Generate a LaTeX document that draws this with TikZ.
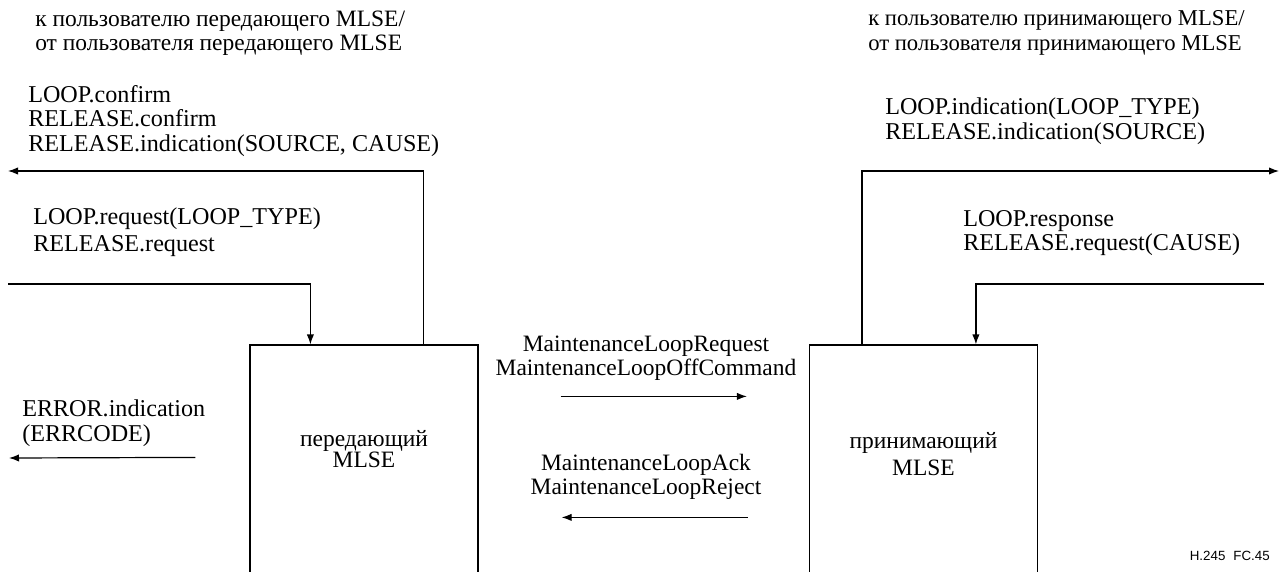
\documentclass[tikz,border=0pt]{standalone}
\usepackage{fontspec}
\setmainfont{Liberation Serif}
\newfontfamily\labsans{Liberation Sans}
\usetikzlibrary{arrows.meta,calc}
\begin{document}
\begin{tikzpicture}[x=0.75pt,y=-0.75pt,
  txt/.style={inner sep=0pt,align=left,anchor=west,font=\fontsize{18.1}{18.4}\selectfont},
  htxt/.style={inner sep=0pt,align=left,anchor=west,font=\fontsize{17.6}{18.4}\selectfont},
  ctxt/.style={inner sep=0pt,align=center,font=\fontsize{17.6}{18.4}\selectfont},
  mbox/.style={draw,line width=0.9pt,minimum width=171pt,minimum height=195pt,inner sep=0pt},
  arr/.style={line width=0.9pt,-{Latex[length=7.5pt,width=5.5pt]}}]
\useasboundingbox (0,0) rectangle (1281,571);
\fill[white] (0,0) rectangle (1281,571);
% boxes (open at the bottom: they run past the page edge)
\node[mbox] (tx) at (364,475) {};
\node[mbox] (rx) at (923.5,475) {};
\node[ctxt,font=\fontsize{17.6}{16}\selectfont] (txl) at (364,449) {передающий\\MLSE};
\node[ctxt,font=\fontsize{17.6}{20}\selectfont] (rxl) at (923.5,454) {принимающий\\MLSE};
% headers
\node[htxt] (h1) at (35,33) {к пользователю передающего MLSE/\\от пользователя передающего MLSE};
\node[htxt,font=\fontsize{17}{18.4}\selectfont] (h2) at (868,33) {к пользователю принимающего MLSE/\\от пользователя принимающего MLSE};
% left labels
\node[txt] (l1) at (28,121) {LOOP.confirm\\RELEASE.confirm\\RELEASE.indication(SOURCE, CAUSE)};
\node[txt,font=\fontsize{18.1}{20.5}\selectfont] (l2) at (33,232) {LOOP.request(LOOP\_TYPE)\\RELEASE.request};
\node[txt] (l3) at (22,423) {ERROR.indication\\(ERRCODE)};
% right labels
\node[txt] (r1) at (885,121) {LOOP.indication(LOOP\_TYPE)\\RELEASE.indication(SOURCE)};
\node[txt] (r2) at (963,233) {LOOP.response\\RELEASE.request(CAUSE)};
% middle labels
\node[ctxt] (m1) at (646,358) {MaintenanceLoopRequest\\MaintenanceLoopOffCommand};
\node[ctxt] (m2) at (646,477) {MaintenanceLoopAck\\MaintenanceLoopReject};
\node[inner sep=0pt,anchor=east,font=\labsans\fontsize{10}{12}\selectfont] (fc) at (1270,556) {H.245\hspace{0.6em}FC.45};
% connectors
\coordinate (a1) at (8,171);
\coordinate (a2) at (8,284);
\coordinate (a3) at (1279,171);
\coordinate (a4) at (1264,284);
\coordinate (e2) at (9,458);
\draw[arr] ($(tx.north west)+(174,0)$) |- (a1);
\draw[arr] (a2) -| ($(tx.north west)+(61,0)$);
\draw[arr] ($(rx.north west)+(53,0)$) |- (a3);
\draw[arr] (a4) -| ($(rx.north west)+(167,0)$);
\draw[arr] ($(tx.north west)+(-54,113)$) -- (e2);
\draw[arr] ($(tx.north east)+(82,52)$) -- ($(rx.north west)+(-62,52)$);
\draw[arr] ($(rx.north west)+(-61,173)$) -- ($(tx.north east)+(83,173)$);
\end{tikzpicture}
\end{document}
